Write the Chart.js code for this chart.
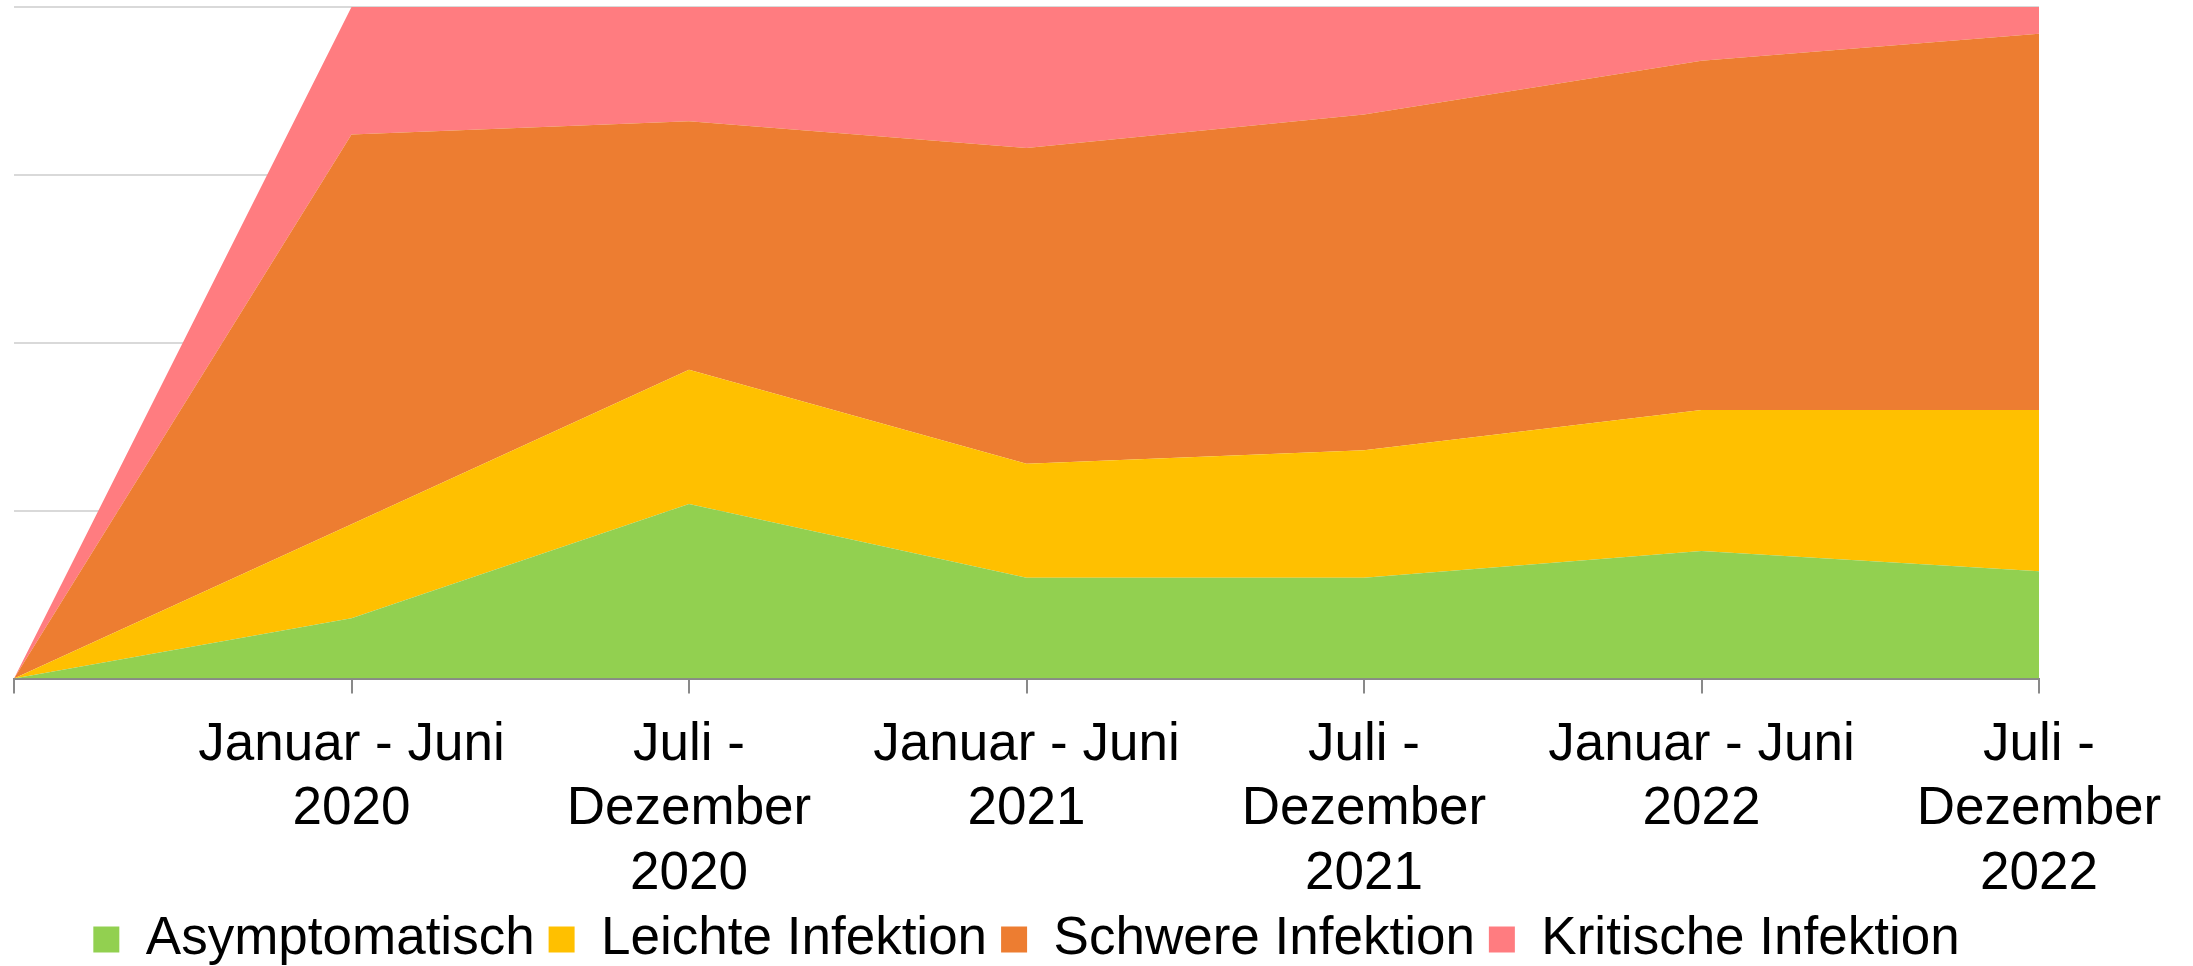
<!DOCTYPE html>
<html>
<head>
<meta charset="utf-8">
<script src="https://cdn.jsdelivr.net/npm/chart.js@4/dist/chart.umd.min.js"></script>
<style>
html,body{margin:0;padding:0;background:#fff;}
#wrap{width:2193px;height:966px;position:relative;}
</style>
</head>
<body>
<div id="wrap"><canvas id="c" width="2193" height="966"></canvas></div>
<script>
const categories = [
  "",
  ["Januar - Juni", "2020"],
  ["Juli -", "Dezember", "2020"],
  ["Januar - Juni", "2021"],
  ["Juli -", "Dezember", "2021"],
  ["Januar - Juni", "2022"],
  ["Juli -", "Dezember", "2022"]
];
const asymptomatisch = [0, 9, 26, 15, 15, 19, 16];
const leichte = [0, 14, 20, 17, 19, 21, 24];
const schwere = [0, 58, 37, 47, 50, 52, 56];
const kritische = [0, 19, 17, 21, 16, 8, 4];
const seriesNames = ["Asymptomatisch", "Leichte Infektion", "Schwere Infektion", "Kritische Infektion"];
const seriesColors = ["#92D050", "#FFC000", "#ED7D31", "#FF7C80"];
const yTicks = [0, 25, 50, 75, 100];

const seriesData = [asymptomatisch, leichte, schwere, kritische];
const datasets = seriesData.map((d, i) => ({
  label: seriesNames[i],
  data: d,
  backgroundColor: seriesColors[i],
  borderColor: seriesColors[i],
  borderWidth: 0,
  pointRadius: 0,
  fill: i === 0 ? 'origin' : '-1',
  tension: 0
}));

Chart.defaults.font.family = "'Liberation Sans', Arial, sans-serif";
new Chart(document.getElementById('c'), {
  type: 'line',
  data: { labels: categories, datasets },
  options: {
    responsive: false,
    animation: false,
    layout: { padding: { left: 14, right: 154, top: 7, bottom: -10 } },
    plugins: {
      legend: {
        position: 'bottom',
        labels: { boxWidth: 26, boxHeight: 26, color: '#000', font: { size: 53 }, padding: 14 }
      },
      tooltip: { enabled: false }
    },
    scales: {
      x: {
        offset: false,
        afterFit: (s) => { s.height -= 27; s.paddingLeft = 0; s.paddingRight = 0; },
        grid: { drawOnChartArea: false, drawTicks: true, tickLength: 15, color: '#898989', lineWidth: 2 },
        border: { display: true, color: '#898989', width: 2 },
        ticks: { color: '#000', font: { size: 53, lineHeight: 1.21 }, maxRotation: 0, autoSkip: false, padding: 20 }
      },
      y: {
        stacked: true,
        min: 0, max: 100,
        afterBuildTicks: (s) => { s.ticks = yTicks.map(v => ({ value: v })); },
        grid: { color: '#d9d9d9', lineWidth: 2, drawTicks: false },
        border: { display: false },
        ticks: { display: false }
      }
    }
  }
});
</script>
</body>
</html>
